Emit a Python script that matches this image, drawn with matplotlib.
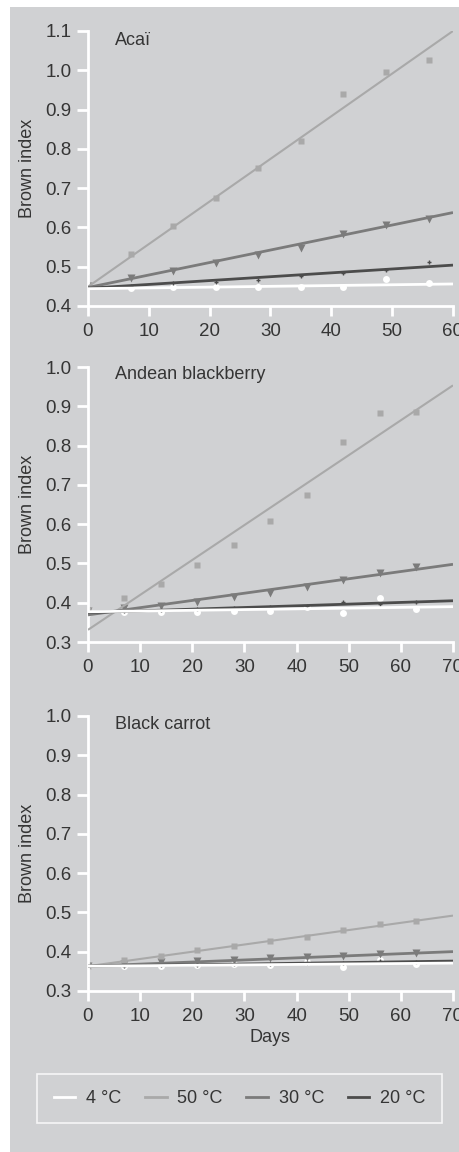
import numpy as np
import matplotlib
matplotlib.use('Agg')
import matplotlib.pyplot as plt
from matplotlib.patches import Rectangle
from matplotlib.lines import Line2D

plt.rcParams['font.family'] = ['Liberation Sans', 'DejaVu Sans']

# Storage days
days_acai = [0, 7, 14, 21, 28, 35, 42, 49, 56]
days_long = [0, 7, 14, 21, 28, 35, 42, 49, 56, 63]

# Brown index measurements per temperature
acai_50 = [0.451, 0.532, 0.604, 0.674, 0.750, 0.821, 0.939, 0.996, 1.026]
acai_30 = [0.450, 0.472, 0.490, 0.510, 0.530, 0.547, 0.582, 0.606, 0.621]
acai_20 = [0.450, 0.452, 0.458, 0.462, 0.467, 0.476, 0.484, 0.492, 0.513]
acai_4 = [0.450, 0.445, 0.449, 0.448, 0.448, 0.448, 0.448, 0.468, 0.459]

berry_50 = [0.382, 0.411, 0.447, 0.496, 0.546, 0.609, 0.673, 0.809, 0.884, 0.885]
berry_30 = [0.380, 0.386, 0.392, 0.403, 0.414, 0.426, 0.441, 0.458, 0.475, 0.492]
berry_20 = [0.378, 0.380, 0.381, 0.383, 0.386, 0.390, 0.392, 0.403, 0.398, 0.403]
berry_4 = [0.375, 0.377, 0.377, 0.377, 0.380, 0.378, 0.388, 0.375, 0.411, 0.383]

carrot_50 = [0.364, 0.380, 0.390, 0.403, 0.414, 0.426, 0.437, 0.454, 0.471, 0.479]
carrot_30 = [0.364, 0.369, 0.373, 0.375, 0.380, 0.384, 0.386, 0.388, 0.395, 0.397]
carrot_20 = [0.363, 0.364, 0.366, 0.366, 0.368, 0.369, 0.370, 0.372, 0.376, 0.374]
carrot_4 = [0.363, 0.364, 0.364, 0.366, 0.368, 0.367, 0.373, 0.361, 0.380, 0.369]

# Linear fits (intercept, slope) for 50, 30, 20, 4 degC
acai_fit = [(0.449, 0.01085), (0.447, 0.00318), (0.445, 0.000983), (0.444, 0.0002)]
berry_fit = [(0.331, 0.00889), (0.369, 0.00184), (0.375, 0.000429), (0.377, 0.000186)]
carrot_fit = [(0.363, 0.00184), (0.363, 0.00053), (0.363, 0.000186), (0.363, 0.000114)]

titles = ['Acaï', 'Andean blackberry', 'Black carrot']
temps = ['4 °C', '50 °C', '30 °C', '20 °C']

bg = '#d0d1d3'
txt = '#353535'
c50, c30, c20, c4 = '#a9a9a9', '#7b7b7b', '#4c4c4c', '#ffffff'

fig = plt.figure(figsize=(4.6, 11.52), dpi=100)
fig.patches.append(Rectangle((10 / 460, 0), 1, 1 - 7 / 1152, transform=fig.transFigure,
                             facecolor=bg, edgecolor='none', zorder=-10))

panels = [
    (days_acai, [acai_50, acai_30, acai_20, acai_4], acai_fit, 60, (0.4, 1.1), 0.7344),
    (days_long, [berry_50, berry_30, berry_20, berry_4], berry_fit, 70, (0.3, 1.0), 0.4427),
    (days_long, [carrot_50, carrot_30, carrot_20, carrot_4], carrot_fit, 70, (0.3, 1.0), 0.1398),
]
title_y = [0.949, 0.956, 0.953]

for i, (d, series, fits, xmax, ylim, bottom) in enumerate(panels):
    ax = fig.add_axes([88 / 460, bottom, 365 / 460, 275 / 1152])
    ax.set_facecolor('none')
    s50, s30, s20, s4 = series
    ax.plot(d, s4, 'o', color=c4, ms=5, mec='none', zorder=2)
    ax.plot(d, s20, '+', color=c20, ms=3, mew=1, zorder=2)
    ax.plot(d, s30, 'v', color=c30, ms=6, mec='none', zorder=2)
    ax.plot(d, s50, 's', color=c50, ms=5, mec='none', zorder=2)
    xs = np.array([0, xmax])
    for (b0, b1), col, lw in zip(fits, [c50, c30, c20, c4], [1.5, 2.0, 2.0, 2.0]):
        ax.plot(xs, b0 + b1 * xs, color=col, lw=lw, zorder=3, solid_capstyle='butt')
    ax.set_xlim(0, xmax)
    ax.set_ylim(*ylim)
    ax.set_xticks(np.arange(0, xmax + 1, 10))
    ax.set_yticks(np.round(np.arange(ylim[0], ylim[1] + 0.001, 0.1), 1))
    ax.yaxis.set_major_formatter(matplotlib.ticker.FormatStrFormatter('%.1f'))
    for side in ['top', 'right']:
        ax.spines[side].set_visible(False)
    for side in ['left', 'bottom']:
        ax.spines[side].set_color('white')
        ax.spines[side].set_linewidth(2)
    ax.tick_params(axis='y', direction='out', length=8, width=2, color='white',
                   labelsize=13.5, labelcolor=txt, pad=4)
    ax.tick_params(axis='x', direction='out', length=7.5, width=2, color='white',
                   labelsize=13.5, labelcolor=txt, pad=5)
    ax.set_ylabel('Brown index', fontsize=13, color=txt)
    ax.yaxis.set_label_coords(-0.142, 0.5)
    ax.text(0.074, title_y[i], titles[i], transform=ax.transAxes, fontsize=13,
            color=txt, va='baseline', ha='left')
    if i == 2:
        ax.set_xlabel('Days', fontsize=13, color=txt, labelpad=3)

handles = [Line2D([], [], color=c, lw=2) for c in [c4, c50, c30, c20]]
leg = fig.legend(handles, temps, loc='center', bbox_to_anchor=(0.5207, 0.0464), ncol=4,
                 frameon=True, fontsize=13, handlelength=1.2, handletextpad=0.6,
                 columnspacing=1.3, borderpad=0.9, labelcolor=txt, fancybox=False)
leg.get_frame().set_facecolor(bg)
leg.get_frame().set_edgecolor('white')
leg.get_frame().set_linewidth(1.2)

fig.savefig('out.png', dpi=100, facecolor='white')
